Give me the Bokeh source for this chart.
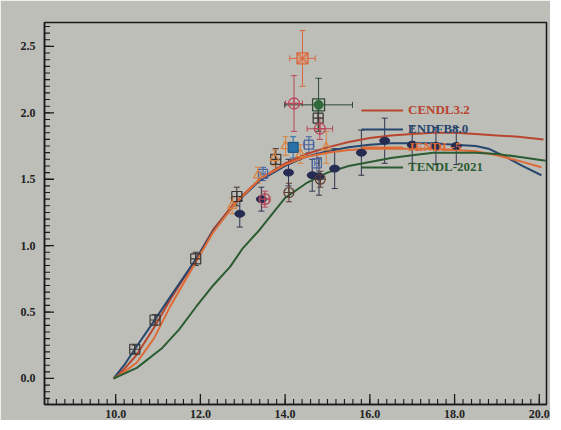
import math
from bokeh.plotting import figure
from bokeh.models import (Range1d, SingleIntervalTicker, PrintfTickFormatter, Legend,
                          LegendItem, Whisker, TeeHead, ColumnDataSource)
from bokeh.embed import file_html
from bokeh.resources import INLINE

# ---------------- data ----------------
cendl_x = [9.95, 10.2, 10.5, 10.9, 11.3, 11.9, 12.3, 12.8, 13.4, 14.0, 14.5, 15.0, 15.5, 16.0, 16.5, 17.0, 17.5, 18.0, 18.5, 19.0, 19.5, 20.1]
cendl_y = [0.0, 0.07, 0.18, 0.38, 0.60, 0.90, 1.12, 1.32, 1.50, 1.62, 1.69, 1.74, 1.78, 1.81, 1.83, 1.84, 1.85, 1.85, 1.84, 1.83, 1.82, 1.80]

endf_x = [9.95, 10.2, 10.45, 10.9, 11.3, 11.9, 12.3, 12.8, 13.4, 14.0, 14.5, 15.0, 15.5, 16.0, 16.5, 17.0, 17.5, 18.0, 18.5, 18.8, 19.2, 19.6, 20.05]
endf_y = [0.0, 0.10, 0.22, 0.43, 0.62, 0.90, 1.11, 1.31, 1.49, 1.60, 1.67, 1.71, 1.74, 1.76, 1.77, 1.77, 1.77, 1.76, 1.75, 1.73, 1.67, 1.60, 1.53]

jendl_x = [9.95, 10.2, 10.5, 10.9, 11.3, 11.9, 12.3, 12.8, 13.4, 14.0, 14.5, 15.0, 15.5, 16.0, 16.5, 17.0, 17.5, 18.0, 18.5, 19.0, 19.5, 20.05]
jendl_y = [0.0, 0.05, 0.12, 0.30, 0.55, 0.88, 1.10, 1.31, 1.50, 1.61, 1.67, 1.70, 1.72, 1.73, 1.73, 1.73, 1.73, 1.72, 1.71, 1.68, 1.64, 1.59]

tendl_x = [9.95, 10.5, 11.1, 11.5, 11.9, 12.3, 12.7, 13.0, 13.4, 13.8, 14.0, 14.5, 15.0, 15.5, 16.0, 16.5, 17.0, 17.5, 18.0, 18.5, 19.0, 19.5, 20.15]
tendl_y = [0.0, 0.08, 0.23, 0.37, 0.54, 0.70, 0.84, 0.98, 1.12, 1.28, 1.36, 1.47, 1.55, 1.60, 1.63, 1.66, 1.68, 1.70, 1.70, 1.70, 1.69, 1.67, 1.64]

# experimental points
sq_x = [10.45, 10.93, 11.89, 12.86, 13.78, 14.78]
sq_y = [0.22, 0.44, 0.90, 1.37, 1.65, 1.96]
sq_err = [0.03, 0.04, 0.05, 0.07, 0.08, 0.08]

bsq_x = [13.48, 14.56, 14.75]
bsq_y = [1.54, 1.76, 1.62]
bsq_err = [0.05, 0.06, 0.10]
bsq_xerr = [0.05, 0.12, 0.05]

nv_x = [12.93, 13.44, 14.08, 14.64, 14.80, 15.17, 15.80, 16.35, 17.00, 17.56, 18.04]
nv_y = [1.24, 1.35, 1.55, 1.53, 1.52, 1.58, 1.70, 1.79, 1.76, 1.75, 1.75]
nv_err = [0.10, 0.09, 0.10, 0.12, 0.14, 0.15, 0.17, 0.17, 0.14, 0.14, 0.14]

tr_x = [12.75, 13.36, 13.75, 14.01, 14.36, 14.97]
tr_y = [1.30, 1.53, 1.66, 1.75, 1.69, 1.74]
tr_err = [0.06, 0.06, 0.06, 0.07, 0.07, 0.12]

rc_x = [13.52, 14.21, 14.82]
rc_y = [1.35, 2.07, 1.88]
rc_yerr = [0.06, 0.21, 0.08]
rc_xerr = [0.10, 0.20, 0.30]

dc_x = [14.09, 14.83]
dc_y = [1.40, 1.50]
dc_err = [0.07, 0.06]

os_x = [14.41]
os_y = [2.41]
os_yerr = [0.21]
os_xerr = [0.30]

gr_x = [14.79]
gr_y = [2.06]
gr_yerr = [0.20]
gr_xerr = [0.80]

bf_x = [14.19]
bf_y = [1.74]
bf_err = [0.08]

labels = ["CENDL3.2", "ENDFB8.0", "JENDL-5", "TENDL-2021"]

# tick values
x_major_ticks = [10.0, 12.0, 14.0, 16.0, 18.0, 20.0]
x_minor_ticks = [round(8.4 + 0.2 * i, 1) for i in range(59)]
y_major_ticks = [0.0, 0.5, 1.0, 1.5, 2.0, 2.5]
y_minor_ticks = [round(-0.15 + 0.05 * i, 2) for i in range(57)]

# ---------------- style ----------------
BG = "#bdbeb8"
INK = "#1a1a1a"
C_CENDL = "#b8452f"
C_ENDF = "#27476e"
C_JENDL = "#de6a36"
C_TENDL = "#2b5c33"
SERIF = "Liberation Serif"
X0, X1 = 8.32, 20.17
Y0, Y1 = -0.196, 2.68
EPS_X = 0.012
EPS_Y = 0.004

p = figure(width=550, height=420, x_range=Range1d(X0, X1), y_range=Range1d(Y0, Y1),
           output_backend="svg", toolbar_location=None,
           min_border_left=44, min_border_right=4, min_border_top=22, min_border_bottom=0,
           background_fill_color=BG, border_fill_color=BG)
p.grid.visible = False
p.outline_line_color = INK
p.outline_line_width = 1.5

for ax in (p.xaxis[0], p.yaxis[0]):
    ax.formatter = PrintfTickFormatter(format="%.1f")
    ax.axis_line_color = INK
    ax.axis_line_width = 1.5
    ax.major_tick_out = 0
    ax.minor_tick_out = 0
    ax.major_tick_in = 0
    ax.minor_tick_in = 0
    ax.major_label_text_font = SERIF
    ax.major_label_text_font_style = "bold"
    ax.major_label_text_font_size = "12px"
    ax.major_label_text_color = "#222222"

p.xaxis.ticker = SingleIntervalTicker(interval=2, num_minor_ticks=10)
p.yaxis.ticker = SingleIntervalTicker(interval=0.5, num_minor_ticks=10)
p.xaxis.major_label_standoff = 5
p.yaxis.major_label_standoff = 9

# inward tick marks: dashes centred on the frame edge, outer half clipped by the frame
p.scatter(x_minor_ticks, [Y0 + EPS_Y] * len(x_minor_ticks), marker="dash", angle=math.pi / 2, size=10,
          line_color=INK, line_width=1.1)
p.scatter(x_major_ticks, [Y0 + EPS_Y] * len(x_major_ticks), marker="dash", angle=math.pi / 2, size=20,
          line_color=INK, line_width=1.3)
p.scatter([X0 + EPS_X] * len(y_minor_ticks), y_minor_ticks, marker="dash", size=10,
          line_color=INK, line_width=1.1)
p.scatter([X0 + EPS_X] * len(y_major_ticks), y_major_ticks, marker="dash", size=18,
          line_color=INK, line_width=1.3)


def vbars(xs, ys, errs, color, width=1.0):
    src = ColumnDataSource(dict(x=xs, lo=[a - b for a, b in zip(ys, errs)], hi=[a + b for a, b in zip(ys, errs)]))
    p.add_layout(Whisker(source=src, base="x", lower="lo", upper="hi", dimension="height",
                         line_color=color, line_width=width,
                         upper_head=TeeHead(size=6, line_color=color, line_width=width),
                         lower_head=TeeHead(size=6, line_color=color, line_width=width)))


def hbars(xs, ys, errs, color, width=1.0):
    src = ColumnDataSource(dict(y=ys, lo=[a - b for a, b in zip(xs, errs)], hi=[a + b for a, b in zip(xs, errs)]))
    p.add_layout(Whisker(source=src, base="y", lower="lo", upper="hi", dimension="width",
                         line_color=color, line_width=width,
                         upper_head=TeeHead(size=6, line_color=color, line_width=width),
                         lower_head=TeeHead(size=6, line_color=color, line_width=width)))


# error bars
vbars(sq_x, sq_y, sq_err, "#3a3532")
vbars(bsq_x, bsq_y, bsq_err, "#4a62a0")
hbars(bsq_x, bsq_y, bsq_xerr, "#4a62a0")
vbars(nv_x, nv_y, nv_err, "#2f3450")
vbars(tr_x, tr_y, tr_err, "#d9823e")
vbars(rc_x, rc_y, rc_yerr, "#b8485a")
hbars(rc_x, rc_y, rc_xerr, "#b8485a")
vbars(dc_x, dc_y, dc_err, "#5a3a30")
vbars(os_x, os_y, os_yerr, "#d8683e")
hbars(os_x, os_y, os_xerr, "#d8683e")
vbars(gr_x, gr_y, gr_yerr, "#2d4a35")
hbars(gr_x, gr_y, gr_xerr, "#2d4a35")
vbars(bf_x, bf_y, bf_err, "#2a70a8")

# evaluation curves
r_cendl = p.line(cendl_x, cendl_y, line_color=C_CENDL, line_width=2)
r_endf = p.line(endf_x, endf_y, line_color=C_ENDF, line_width=2)
r_jendl = p.line(jendl_x, jendl_y, line_color=C_JENDL, line_width=2)
r_tendl = p.line(tendl_x, tendl_y, line_color=C_TENDL, line_width=2)

# markers
p.scatter(sq_x, sq_y, marker="square_cross", size=10, fill_alpha=0, line_color="#3a3532", line_width=1.2)
p.scatter(bsq_x, bsq_y, marker="square", size=9, fill_alpha=0, line_color="#4a62a0", line_width=1.2)
p.ellipse(nv_x, nv_y, width=10, height=7, width_units="screen", height_units="screen",
          fill_color="#262b52", line_color="#262b52")
p.scatter(tr_x, tr_y, marker="triangle", size=9, fill_alpha=0, line_color="#d9823e", line_width=1.2)
p.scatter(rc_x, rc_y, marker="circle_cross", size=11, fill_alpha=0, line_color="#b8485a", line_width=1.3)
p.scatter(dc_x, dc_y, marker="circle_cross", size=10, fill_alpha=0, line_color="#5a3a30", line_width=1.2)
p.scatter(os_x, os_y, marker="square_x", size=11, fill_color="#e0906a", fill_alpha=0.5, line_color="#d8683e", line_width=1.3)
p.scatter(gr_x, gr_y, marker="square", size=12, fill_alpha=0, line_color="#2d4a35", line_width=1.3)
p.scatter(gr_x, gr_y, marker="circle", size=9, fill_color="#2f6a3a", line_color="#2f6a3a")
p.scatter(bf_x, bf_y, marker="square", size=10, fill_color="#2a70a8", line_color="#1d4f7a")

# legend: four single-item legends so each label keeps its own colour
leg_pos = [(317, 286), (317, 267), (317, 249), (317, 229)]
for lab, rend, col, loc in zip(labels, [r_cendl, r_endf, r_jendl, r_tendl],
                               [C_CENDL, C_ENDF, C_JENDL, C_TENDL], leg_pos):
    lg = Legend(items=[LegendItem(label=lab, renderers=[rend])], location=loc,
                glyph_width=42, glyph_height=14, label_height=14, label_standoff=5,
                padding=0, margin=0, spacing=0,
                border_line_alpha=0, background_fill_alpha=0,
                label_text_font=SERIF, label_text_font_style="bold",
                label_text_font_size="13px", label_text_color=col)
    p.add_layout(lg)

open("out.html", "w").write(file_html(p, INLINE))
